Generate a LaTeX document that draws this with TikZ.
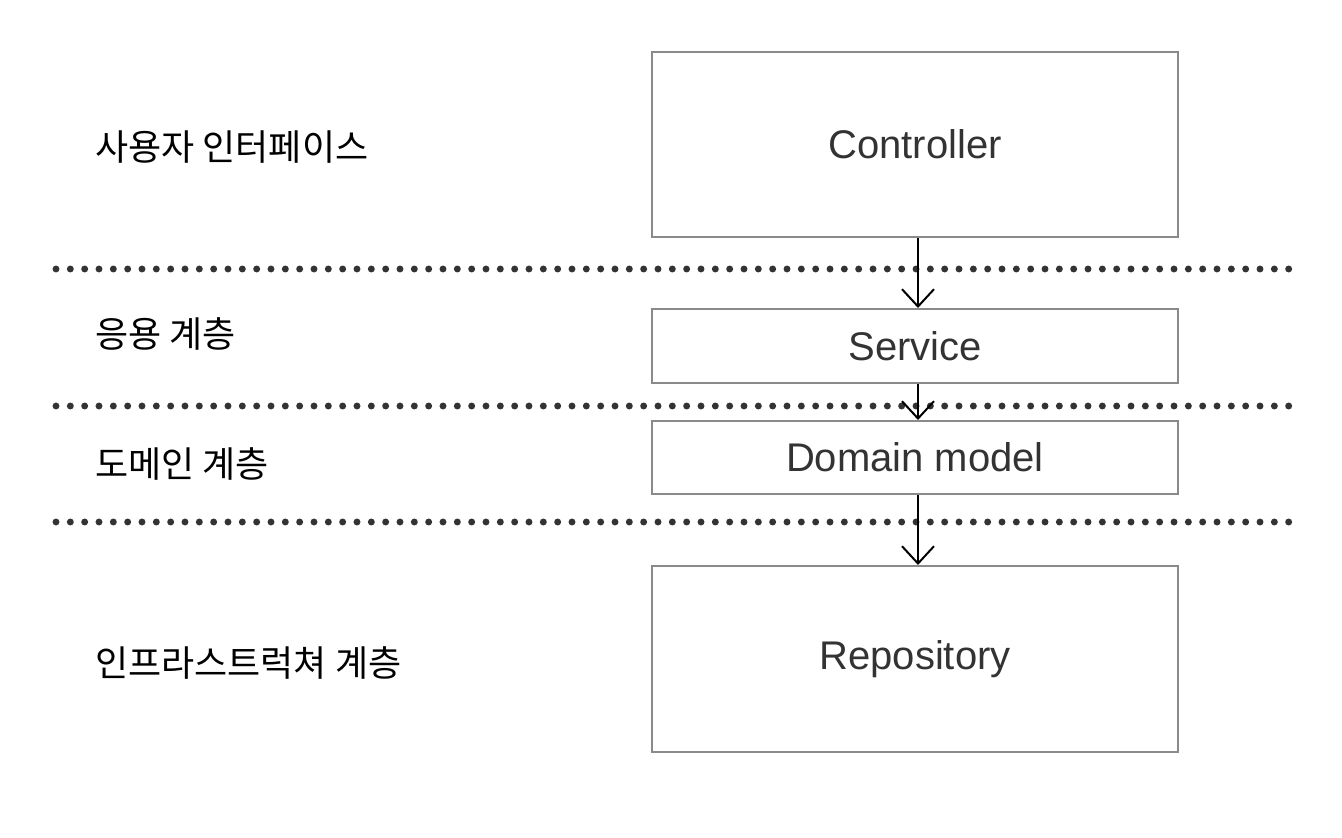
\documentclass[tikz,border=0pt]{standalone}
\usepackage{fontspec}
\setmainfont{Liberation Sans}
\newfontfamily\kr{Noto Sans CJK KR}
\usetikzlibrary{arrows.meta}
\definecolor{boxgray}{HTML}{8A8A8A}
\definecolor{txtgray}{HTML}{333333}
\tikzset{
  layerbox/.style={draw=boxgray, line width=1.5pt, minimum width=394.5pt, inner sep=0pt,
    font=\fontsize{30}{35}\selectfont, text=txtgray},
  layerlabel/.style={anchor=west, inner sep=0pt, font=\kr\fontsize{27}{32}\selectfont, text=black},
  divider/.style={line width=5.2pt, line cap=round, dash pattern=on 0pt off 10.75pt, color=txtgray},
  flow/.style={line width=1.5pt, -{Straight Barb[length=13pt,width=24pt,line width=1.5pt]}}
}
\begin{document}
\begin{tikzpicture}[x=0.75pt,y=-0.75pt]
\useasboundingbox (0,0) rectangle (1342,838);
\node[layerbox, minimum height=138.75pt] (ctrl) at (915,144.5) {Controller};
\node[layerbox, minimum height=55.5pt] (svc) at (915,346) {Service};
\node[layerbox, minimum height=54.75pt] (dom) at (915,457.5) {Domain model};
\node[layerbox, minimum height=139.5pt] (repo) at (915,659) {Repository};

\node[layerlabel] (l1) at (95,147) {사용자 인터페이스};
\node[layerlabel] (l2) at (95,334) {응용 계층};
\node[layerlabel] (l3) at (95,464) {도메인 계층};
\node[layerlabel] (l4) at (95,663) {인프라스트럭쳐 계층};

\draw[divider] (56,269) -- (1292,269);
\draw[divider] (56,406) -- (1292,406);
\draw[divider] (56,522) -- (1292,522);

\draw[flow] ([xshift=2.25pt]ctrl.south) -- ([xshift=2.25pt]svc.north);
\draw[flow] ([xshift=2.25pt]svc.south) -- ([xshift=2.25pt]dom.north);
\draw[flow] ([xshift=2.25pt]dom.south) -- ([xshift=2.25pt]repo.north);
\end{tikzpicture}
\end{document}
